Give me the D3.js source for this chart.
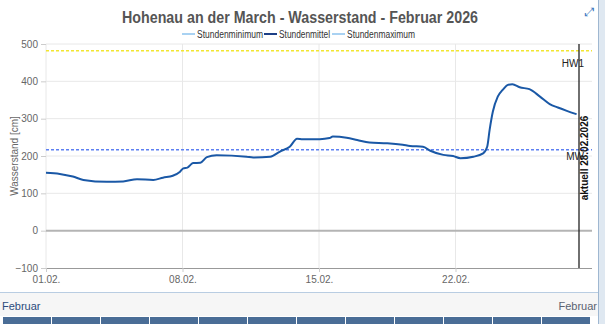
<!DOCTYPE html>
<html>
<head>
<meta charset="utf-8">
<script src="https://cdn.jsdelivr.net/npm/d3@7"></script>
<style>
  body { margin: 0; background: #fff; font-family: "Liberation Sans", Arial, sans-serif; }
  svg { display: block; }
</style>
</head>
<body>
<svg id="chart" width="605" height="324"></svg>
<script>
// readings (hourly mean)
var times = ["2026-02-01T00:00", "2026-02-01T17:00", "2026-02-02T09:00", "2026-02-02T22:00",
  "2026-02-04T03:00", "2026-02-04T23:00", "2026-02-05T16:00", "2026-02-06T12:00",
  "2026-02-07T00:00", "2026-02-07T12:00", "2026-02-07T21:00", "2026-02-08T01:00",
  "2026-02-08T06:00", "2026-02-08T13:00", "2026-02-08T22:00", "2026-02-09T06:00",
  "2026-02-09T18:00", "2026-02-11T07:00", "2026-02-11T15:00", "2026-02-12T12:00",
  "2026-02-13T00:00", "2026-02-13T12:00", "2026-02-13T21:00", "2026-02-14T04:00",
  "2026-02-15T01:00", "2026-02-15T13:00", "2026-02-15T17:00", "2026-02-16T10:00",
  "2026-02-16T23:00", "2026-02-17T14:00", "2026-02-18T12:00", "2026-02-19T07:00",
  "2026-02-19T16:00", "2026-02-20T08:00", "2026-02-20T17:00", "2026-02-21T09:00",
  "2026-02-21T21:00", "2026-02-22T06:00", "2026-02-22T22:00", "2026-02-23T10:00",
  "2026-02-23T15:00", "2026-02-23T18:00", "2026-02-23T22:00", "2026-02-24T04:00",
  "2026-02-24T10:00", "2026-02-24T17:00", "2026-02-24T22:00", "2026-02-25T07:00",
  "2026-02-25T19:00", "2026-02-26T08:00", "2026-02-26T20:00", "2026-02-27T06:00",
  "2026-02-27T17:00", "2026-02-28T05:00"];
var mittel = [155, 152, 145, 136, 131, 132, 138, 136, 142, 147, 158, 167,
  169, 181, 182, 197, 202, 198, 196, 198, 212, 225, 246, 245,
  245, 248, 252, 249, 243, 236, 234, 230, 227, 225, 214, 203,
  200, 194, 198, 207, 225, 270, 319, 359, 377, 391, 392, 384,
  379, 359, 339, 330, 321, 312];

var yTicks = [-100, 0, 100, 200, 300, 400, 500];
var xTicks = ["2026-02-01", "2026-02-08", "2026-02-15", "2026-02-22"];
var legendNames = ["Stundenminimum", "Stundenmittel", "Stundenmaximum"];
var marks = [{ name: "HW1", value: 482 }, { name: "MW", value: 217 }];
var aktuell = "2026-02-28T08:00";
var monthBar = ["Jan", "Feb", "Mär", "Apr", "Mai", "Jun", "Jul", "Aug", "Sep", "Okt", "Nov", "Dez"];

var parse = d3.timeParse("%Y-%m-%dT%H:%M");
var parseDay = d3.timeParse("%Y-%m-%d");
var data = times.map((t, i) => ({ t: parse(t), v: mittel[i] }));

var svg = d3.select("#chart");

var x = d3.scaleTime()
  .domain([parseDay("2026-02-01"), parseDay("2026-03-01")])
  .range([46, 592]);
var y = d3.scaleLinear()
  .domain([-100, 500])
  .range([268, 44]);

// title
svg.append("text")
  .attr("x", 300).attr("y", 23)
  .attr("text-anchor", "middle")
  .attr("font-size", 16).attr("font-weight", "bold")
  .attr("fill", "#555")
  .attr("textLength", 356).attr("lengthAdjust", "spacingAndGlyphs")
  .text("Hohenau an der March - Wasserstand - Februar 2026");

// expand icon
svg.append("text")
  .attr("x", 590).attr("y", 16)
  .attr("text-anchor", "middle")
  .attr("font-size", 12).attr("fill", "#3a78c0")
  .text("⤢");

// legend (positions / widths as in the original)
var legendColors = ["#a9d2f2", "#1c3f86", "#a9d2f2"];
var legendX = [182, 264, 332];
var legendW = [66, 51, 68];
legendNames.forEach((n, i) => {
  svg.append("line")
    .attr("x1", legendX[i]).attr("x2", legendX[i] + 13)
    .attr("y1", 34).attr("y2", 34)
    .attr("stroke", legendColors[i]).attr("stroke-width", 2);
  svg.append("text")
    .attr("x", legendX[i] + 15).attr("y", 37.5)
    .attr("font-size", 10).attr("fill", "#333")
    .attr("textLength", legendW[i]).attr("lengthAdjust", "spacingAndGlyphs")
    .text(n);
});

// grid
svg.append("g").selectAll("line")
  .data(yTicks.filter(d => d !== 0 && d !== -100))
  .enter().append("line")
  .attr("x1", 46).attr("x2", 592)
  .attr("y1", d => y(d)).attr("y2", d => y(d))
  .attr("stroke", "#e8e8e8");

svg.append("g").selectAll("line")
  .data(xTicks)
  .enter().append("line")
  .attr("x1", d => x(parseDay(d))).attr("x2", d => x(parseDay(d)))
  .attr("y1", 44).attr("y2", 268)
  .attr("stroke", "#e8e8e8");

// zero line
svg.append("line")
  .attr("x1", 46).attr("x2", 592)
  .attr("y1", y(0)).attr("y2", y(0))
  .attr("stroke", "#b4b4b4").attr("stroke-width", 2);

// axes
var yAxis = svg.append("g")
  .attr("transform", "translate(46,0)")
  .call(d3.axisLeft(y).tickValues(yTicks).tickSize(5).tickPadding(3));
yAxis.select(".domain").remove();
yAxis.selectAll("line").attr("stroke", "#ccc");
yAxis.selectAll("text").attr("fill", "#666").attr("font-size", 10)
  .attr("font-family", "Liberation Sans, Arial, sans-serif");

var xAxis = svg.append("g")
  .attr("transform", "translate(0,268)")
  .call(d3.axisBottom(x).tickValues(xTicks.map(parseDay))
    .tickFormat(d3.timeFormat("%d.%m.")).tickSize(4).tickPadding(4));
xAxis.select(".domain").attr("stroke", "#999").attr("d", "M46,0.5H592");
xAxis.selectAll("line").attr("stroke", "#ccc");
xAxis.selectAll("text").attr("fill", "#666").attr("font-size", 10)
  .attr("font-family", "Liberation Sans, Arial, sans-serif");

// y title
svg.append("text")
  .attr("transform", "translate(18,156) rotate(-90)")
  .attr("text-anchor", "middle")
  .attr("font-size", 10).attr("fill", "#666")
  .text("Wasserstand [cm]");

// reference lines
var markColors = { HW1: "#f2e531", MW: "#5d80f2" };
marks.forEach(m => {
  svg.append("line")
    .attr("x1", 46).attr("x2", 592)
    .attr("y1", y(m.value)).attr("y2", y(m.value))
    .attr("stroke", markColors[m.name]).attr("stroke-width", 1.5)
    .attr("stroke-dasharray", "3,2");
});
svg.append("text")
  .attr("x", 584).attr("y", y(marks[0].value) + 16)
  .attr("text-anchor", "end").attr("font-size", 10).attr("fill", "#222")
  .text(marks[0].name);
svg.append("text")
  .attr("x", 584).attr("y", y(marks[1].value) + 10)
  .attr("text-anchor", "end").attr("font-size", 10).attr("fill", "#222")
  .text(marks[1].name);

// series
var line = d3.line()
  .x(d => x(d.t))
  .y(d => y(d.v))
  .curve(d3.curveMonotoneX);
svg.append("path")
  .datum(data)
  .attr("fill", "none")
  .attr("stroke", "#1a58a6")
  .attr("stroke-width", 2)
  .attr("d", line);

// current time marker
var ax = x(parse(aktuell));
svg.append("line")
  .attr("x1", ax).attr("x2", ax)
  .attr("y1", 44).attr("y2", 268)
  .attr("stroke", "#222").attr("stroke-width", 1.3);
svg.append("text")
  .attr("transform", "translate(" + (ax + 9) + ",158) rotate(-90)")
  .attr("text-anchor", "middle")
  .attr("font-size", 10).attr("font-weight", "bold").attr("fill", "#111")
  .text("aktuell " + d3.timeFormat("%d.%m.%Y")(parse(aktuell)));

// bottom navigator panel
svg.append("line")
  .attr("x1", 0).attr("x2", 598)
  .attr("y1", 292.5).attr("y2", 292.5)
  .attr("stroke", "#b9cde2");
svg.append("rect")
  .attr("x", 0).attr("y", 293).attr("width", 598).attr("height", 23)
  .attr("fill", "#f6f6f6");
svg.append("text")
  .attr("x", 2).attr("y", 310)
  .attr("font-size", 11).attr("fill", "#2d4c7c")
  .text("Februar");
svg.append("text")
  .attr("x", 597).attr("y", 310)
  .attr("text-anchor", "end")
  .attr("font-size", 11).attr("fill", "#5a6270")
  .text("Februar");

var mb = d3.scaleBand().domain(monthBar).range([3, 591]);
svg.append("g").selectAll("rect")
  .data(monthBar)
  .enter().append("rect")
  .attr("x", d => mb(d)).attr("y", 317)
  .attr("width", mb.bandwidth() - 1).attr("height", 7)
  .attr("fill", "#4a6d96");

// scrollbar on the right
svg.append("rect")
  .attr("x", 598).attr("y", 0).attr("width", 7).attr("height", 324)
  .attr("fill", "#dfe8f1");
svg.append("line")
  .attr("x1", 598.5).attr("x2", 598.5).attr("y1", 0).attr("y2", 324)
  .attr("stroke", "#9fb7d1");
</script>
</body>
</html>
